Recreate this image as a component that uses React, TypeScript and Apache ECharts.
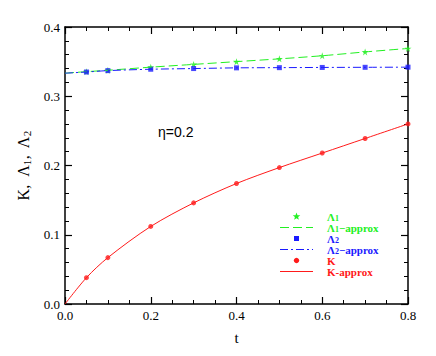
import React, { useEffect, useRef } from "react";
import * as echarts from "echarts";

const tValues = [0.05, 0.1, 0.2, 0.3, 0.4, 0.5, 0.6, 0.7, 0.8];
const kValues = [0.038, 0.067, 0.112, 0.146, 0.174, 0.197, 0.218, 0.239, 0.26];
const lambda1Values = [0.3355, 0.3375, 0.342, 0.346, 0.35, 0.354, 0.3585, 0.364, 0.369];
const lambda2Values = [0.335, 0.337, 0.339, 0.34, 0.341, 0.3413, 0.3416, 0.3418, 0.342];
const tApprox = [0, ...tValues];
const kApprox = [0, ...kValues];
const lambda1Approx = [0.3333, ...lambda1Values];
const lambda2Approx = [0.3333, ...lambda2Values];

const GREEN = "#22f022";
const BLUE = "#1a1aff";
const RED = "#ff1a1a";
const STAR = "path://M50,0L61,35L98,35L68,57L79,91L50,70L21,91L32,57L2,35L39,35Z";
const SQUARE = "path://M0,0L10,0L10,10L0,10Z";

const pairs = (xs: number[], ys: number[]) => xs.map((x, i) => [x, ys[i]]);

function starPoints(cx: number, cy: number, r: number) {
  const pts: number[][] = [];
  for (let i = 0; i < 10; i++) {
    const rr = i % 2 === 0 ? r : r * 0.42;
    const a = -Math.PI / 2 + (i * Math.PI) / 5;
    pts.push([cx + rr * Math.cos(a), cy + rr * Math.sin(a)]);
  }
  return pts;
}

export default function App() {
  const ref = useRef<HTMLDivElement>(null);
  useEffect(() => {
    if (!ref.current) return;
    const chart = echarts.init(ref.current, null, { renderer: "svg" });
    const serif = "Liberation Serif";
    const axisCommon = {
      axisLine: { show: true, onZero: false, lineStyle: { color: "#000", width: 1.5 } },
      axisTick: { show: true, inside: true, length: 7, lineStyle: { color: "#000", width: 1.2 } },
      minorTick: { show: true, length: 4, lineStyle: { color: "#000", width: 1 } },
      splitLine: { show: false },
    };
    const rich = {
      a: { fontFamily: serif, fontSize: 11, fontWeight: "bold" as const, lineHeight: 10 },
      s: { fontFamily: serif, fontSize: 8, fontWeight: "bold" as const, lineHeight: 6, padding: [4, 0, 0, 0] },
    };
    const legendX1 = 280, legendX2 = 313, iconX = 296.5, textX = 327;
    const rows = [216.5, 227.5, 238.5, 249.5, 260.5, 271.5];
    const legendTexts = [
      { text: "{a|Λ}{s|1}", color: GREEN },
      { text: "{a|Λ}{s|1}{a|−approx}", color: GREEN },
      { text: "{a|Λ}{s|2}", color: BLUE },
      { text: "{a|Λ}{s|2}{a|−approx}", color: BLUE },
      { text: "{a|K}", color: RED },
      { text: "{a|K-approx}", color: RED },
    ];
    const legendLine = (y: number, color: string, dash: number[] | null) => ({
      type: "line",
      shape: { x1: legendX1, y1: y, x2: legendX2, y2: y },
      style: dash ? { stroke: color, lineWidth: 1, lineDash: dash } : { stroke: color, lineWidth: 1 },
    });
    const graphic: any[] = [
      {
        type: "text", left: 158, top: 125,
        style: { text: "η=0.2", fontFamily: "Liberation Sans", fontSize: 14, fill: "#000" },
      },
      { type: "polygon", shape: { points: starPoints(iconX, rows[0], 4) }, style: { fill: GREEN } },
      legendLine(rows[1], GREEN, [9, 4]),
      { type: "rect", shape: { x: iconX - 2.5, y: rows[2] - 2.5, width: 5, height: 5 }, style: { fill: BLUE } },
      legendLine(rows[3], BLUE, [8, 3, 2, 3]),
      { type: "circle", shape: { cx: iconX, cy: rows[4], r: 2.7 }, style: { fill: RED } },
      legendLine(rows[5], RED, null),
    ];
    legendTexts.forEach((lt, i) => {
      graphic.push({
        type: "text", x: textX, y: rows[i],
        style: { text: lt.text, rich, fill: lt.color, verticalAlign: "middle", align: "left" },
      });
    });
    chart.setOption({
      animation: false,
      grid: { left: 65, right: 28, top: 27, bottom: 52 },
      xAxis: [
        {
          type: "value", min: 0, max: 0.8, interval: 0.2, position: "bottom",
          ...axisCommon, minorTick: { ...axisCommon.minorTick, splitNumber: 4 },
          axisLabel: { color: "#000", fontFamily: serif, fontSize: 13, margin: 5, formatter: (v: number) => v.toFixed(1) },
          name: "t", nameLocation: "middle", nameGap: 26,
          nameTextStyle: { color: "#000", fontFamily: serif, fontSize: 15 },
        },
        {
          type: "value", min: 0, max: 0.8, interval: 0.2, position: "top",
          ...axisCommon, minorTick: { ...axisCommon.minorTick, splitNumber: 4 },
          axisLabel: { show: false },
        },
      ],
      yAxis: [
        {
          type: "value", min: 0, max: 0.4, interval: 0.1, position: "left",
          ...axisCommon, minorTick: { ...axisCommon.minorTick, splitNumber: 5 },
          axisLabel: { color: "#000", fontFamily: serif, fontSize: 13, margin: 5, formatter: (v: number) => v.toFixed(1) },
          name: "{n|K,  Λ}{m|1}{n|,  Λ}{m|2}", nameLocation: "middle", nameGap: 17,
          nameTextStyle: {
            color: "#000", fontFamily: serif, fontSize: 16,
            rich: {
              n: { fontFamily: serif, fontSize: 16, color: "#000" },
              m: { fontFamily: serif, fontSize: 11, color: "#000", padding: [7, 0, 0, 0] },
            },
          },
        },
        {
          type: "value", min: 0, max: 0.4, interval: 0.1, position: "right",
          ...axisCommon, minorTick: { ...axisCommon.minorTick, splitNumber: 5 },
          axisLabel: { show: false },
        },
      ],
      graphic,
      series: [
        {
          name: "Λ1−approx", type: "line", smooth: 0.3, symbol: "none",
          data: pairs(tApprox, lambda1Approx),
          lineStyle: { color: GREEN, width: 1, type: [9, 4] }, itemStyle: { color: GREEN },
        },
        {
          name: "Λ2−approx", type: "line", smooth: 0.3, symbol: "none",
          data: pairs(tApprox, lambda2Approx),
          lineStyle: { color: BLUE, width: 1, type: [8, 3, 2, 3] }, itemStyle: { color: BLUE },
        },
        {
          name: "K-approx", type: "line", smooth: 0.3, symbol: "none",
          data: pairs(tApprox, kApprox),
          lineStyle: { color: RED, width: 1 }, itemStyle: { color: RED },
        },
        {
          name: "Λ1", type: "scatter", symbol: STAR, symbolSize: 7,
          data: pairs(tValues, lambda1Values), itemStyle: { color: GREEN },
        },
        {
          name: "Λ2", type: "scatter", symbol: SQUARE, symbolSize: 5,
          data: pairs(tValues, lambda2Values), itemStyle: { color: BLUE },
        },
        {
          name: "K", type: "scatter", symbol: "circle", symbolSize: 5,
          data: pairs(tValues, kValues), itemStyle: { color: RED },
        },
      ],
    });
    return () => chart.dispose();
  }, []);
  return <div ref={ref} style={{ position: "absolute", left: 0, top: 0, width: 436, height: 356 }} />;
}
